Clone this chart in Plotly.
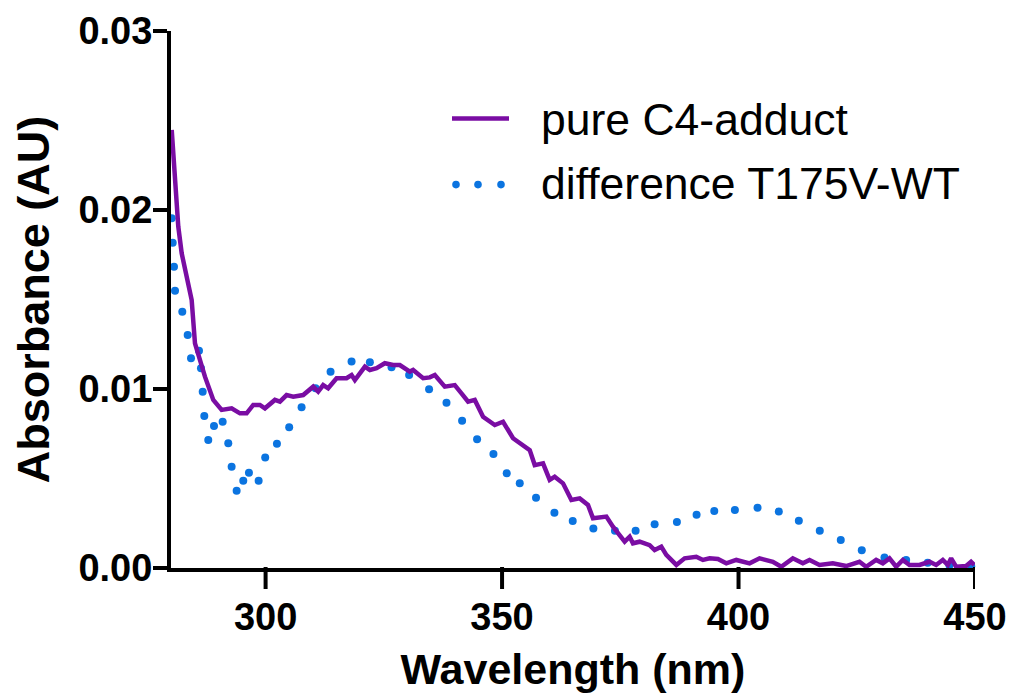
import plotly.graph_objects as go

# pure C4-adduct spectrum (wavelength nm, absorbance AU)
adduct_wl = [280.15, 280.85, 281.54, 282.26, 283.32, 284.37, 285.07, 287.18, 288.94, 290.71,
             292.82, 294.58, 295.99, 297.39, 298.80, 299.86, 301.97, 303.03, 304.44, 305.84,
             307.95, 310.07, 311.12, 312.18, 313.23, 315.01, 317.12, 318.18, 318.88, 320.29,
             321.00, 322.05, 323.46, 325.21, 326.97, 328.38, 330.50, 331.19, 333.31, 334.72,
             335.78, 337.89, 340.00, 341.42, 342.82, 344.23, 345.98, 348.46, 350.21, 352.32,
             355.85, 356.91, 358.66, 360.07, 361.13, 362.89, 364.66, 366.42, 368.17, 369.23,
             372.06, 373.45, 375.92, 376.98, 377.68, 379.09, 381.20, 382.26, 383.67, 384.73,
             386.85, 388.60, 391.07, 392.47, 393.88, 395.64, 397.41, 399.52, 402.34, 404.45,
             407.26, 409.03, 411.48, 413.60, 415.01, 417.12, 419.93, 422.76, 425.57, 426.98,
             429.10, 430.51, 431.92, 433.33, 434.74, 436.15, 438.26, 440.37, 441.78, 443.19,
             444.25, 444.95, 446.01, 448.12, 449.17, 449.87]
adduct_abs = [0.02447, 0.02130, 0.01907, 0.01758, 0.01627, 0.01497, 0.01255, 0.01069, 0.00939, 0.00883,
              0.00892, 0.00864, 0.00864, 0.00911, 0.00911, 0.00892, 0.00939, 0.00929, 0.00966, 0.00957,
              0.00966, 0.01013, 0.00985, 0.01022, 0.01004, 0.01060, 0.01060, 0.01078, 0.01050, 0.01097,
              0.01125, 0.01106, 0.01116, 0.01144, 0.01134, 0.01134, 0.01097, 0.01106, 0.01060, 0.01065,
              0.01078, 0.01013, 0.01022, 0.00976, 0.00929, 0.00939, 0.00845, 0.00799, 0.00817, 0.00725,
              0.00659, 0.00575, 0.00585, 0.00492, 0.00510, 0.00473, 0.00380, 0.00389, 0.00352, 0.00278,
              0.00287, 0.00231, 0.00147, 0.00175, 0.00138, 0.00147, 0.00128, 0.00100, 0.00119, 0.00073,
              0.00017, 0.00054, 0.00063, 0.00045, 0.00054, 0.00050, 0.00026, 0.00045, 0.00026, 0.00054,
              0.00035, 0.00007, 0.00054, 0.00026, 0.00045, 0.00017, 0.00026, 0.00011, 0.00035, 0.00007,
              0.00045, 0.00026, 0.00054, 0.00007, 0.00045, 0.00017, 0.00017, 0.00035, 0.00017, 0.00045,
              0.00017, 0.00054, 0.00007, 0.00011, 0.00035, 0.00017]

# difference spectrum T175V-WT
diff_wl = [280.15, 280.36, 280.63, 280.85, 282.39, 283.53, 284.23, 285.92, 286.34, 286.70,
           287.04, 287.88, 289.09, 290.92, 292.11, 292.82, 293.88, 295.28, 296.48, 298.53,
           299.92, 302.40, 304.99, 307.61, 310.57, 313.74, 318.18, 322.05, 326.63, 330.35,
           334.57, 338.25, 341.55, 344.72, 348.18, 350.99, 353.74, 357.18, 361.07, 364.94,
           369.31, 373.87, 378.24, 382.26, 386.97, 391.13, 394.87, 399.23, 404.02, 408.52,
           412.75, 417.18, 421.62, 426.06, 430.86, 435.44, 440.00, 444.60, 449.20]
diff_abs = [0.01954, 0.01817, 0.01683, 0.01549, 0.01432, 0.01302, 0.01172, 0.01214, 0.01116, 0.00985,
            0.00849, 0.00715, 0.00793, 0.00817, 0.00697, 0.00566, 0.00432, 0.00488, 0.00532, 0.00488,
            0.00618, 0.00694, 0.00786, 0.00898, 0.01004, 0.01097, 0.01153, 0.01149, 0.01121, 0.01078,
            0.00998, 0.00923, 0.00823, 0.00719, 0.00637, 0.00529, 0.00473, 0.00393, 0.00309, 0.00263,
            0.00220, 0.00208, 0.00208, 0.00244, 0.00257, 0.00298, 0.00318, 0.00324, 0.00337, 0.00315,
            0.00264, 0.00208, 0.00156, 0.00099, 0.00058, 0.00045, 0.00030, 0.00015, 0.00010]

series_names = ["pure C4-adduct", "difference T175V-WT"]
x_ticks = [300, 350, 400, 450]
y_ticks = [0.00, 0.01, 0.02, 0.03]

PURPLE = "#7A0DA3"
BLUE = "#0B74E0"
FONT = "Liberation Sans, Arial, sans-serif"

# page has an 8px body margin; screen position = figure position + 8
OFF = 8
W, H = 1015, 696
L, T = 171 - OFF, 31 - OFF
pw, ph = 804, 537
R = W - L - pw
B = H - T - ph

fig = go.Figure()
fig.add_trace(go.Scatter(x=diff_wl, y=diff_abs, mode="markers",
                         marker=dict(color=BLUE, size=8), cliponaxis=False,
                         name=series_names[1], showlegend=False))
fig.add_trace(go.Scatter(x=adduct_wl, y=adduct_abs, mode="lines",
                         line=dict(color=PURPLE, width=4.5), name=series_names[0],
                         showlegend=False))

def px(x):
    return (x - OFF - L) / pw
def py(y):
    return (T + ph - (y - OFF)) / ph

shapes = []
# x-axis tick marks (one per tick value, hanging below the axis line)
for tv in x_ticks:
    shapes.append(dict(type="line", xref="x", yref="paper", x0=tv, x1=tv,
                       y0=py(567), y1=py(589), layer="above",
                       line=dict(color="black", width=4)))
# manual legend
shapes.append(dict(type="line", xref="paper", yref="paper", x0=px(452), x1=px(509),
                   y0=py(118.6), y1=py(118.6), line=dict(color=PURPLE, width=4.5)))
for cx in [456, 478, 501]:
    shapes.append(dict(type="circle", xref="paper", yref="paper",
                       xsizemode="pixel", ysizemode="pixel",
                       xanchor=px(cx), yanchor=py(184.6),
                       x0=-3.8, x1=3.8, y0=-3.8, y1=3.8,
                       fillcolor=BLUE, line=dict(width=0)))
annotations = [
    dict(text=series_names[0], xref="paper", yref="paper", x=px(539), y=py(119),
         xanchor="left", yanchor="middle", showarrow=False,
         font=dict(family=FONT, size=44.5, color="black")),
    dict(text=series_names[1], xref="paper", yref="paper", x=px(539), y=py(183),
         xanchor="left", yanchor="middle", showarrow=False,
         font=dict(family=FONT, size=44.5, color="black")),
]

fig.update_layout(
    width=W, height=H,
    margin=dict(l=L, r=R, t=T, b=B, pad=0),
    paper_bgcolor="white", plot_bgcolor="white",
    shapes=shapes, annotations=annotations,
    xaxis=dict(range=[280, 450], tickvals=x_ticks, ticktext=[str(v) for v in x_ticks],
               showline=True, linecolor="black", linewidth=4, mirror=False,
               ticks="", ticklabelstandoff=12,
               showgrid=False, zeroline=False, automargin=False,
               tickfont=dict(family=FONT, size=38, color="black", weight="bold"),
               title=dict(text="Wavelength (nm)", standoff=18,
                          font=dict(family=FONT, size=43, color="black", weight="bold"))),
    yaxis=dict(range=[0, 0.03], tickvals=y_ticks, ticktext=["%.2f" % v for v in y_ticks],
               showline=True, linecolor="black", linewidth=4, mirror=False,
               ticks="", ticklabelstandoff=7,
               minor=dict(tickvals=y_ticks, ticks="outside", ticklen=14, tickwidth=4,
                          tickcolor="black", showgrid=False),
               showgrid=False, zeroline=False, automargin=False,
               tickfont=dict(family=FONT, size=38, color="black", weight="bold"),
               title=dict(text="Absorbance (AU)", standoff=32,
                          font=dict(family=FONT, size=45, color="black", weight="bold"))),
)

fig.write_html("out.html")
